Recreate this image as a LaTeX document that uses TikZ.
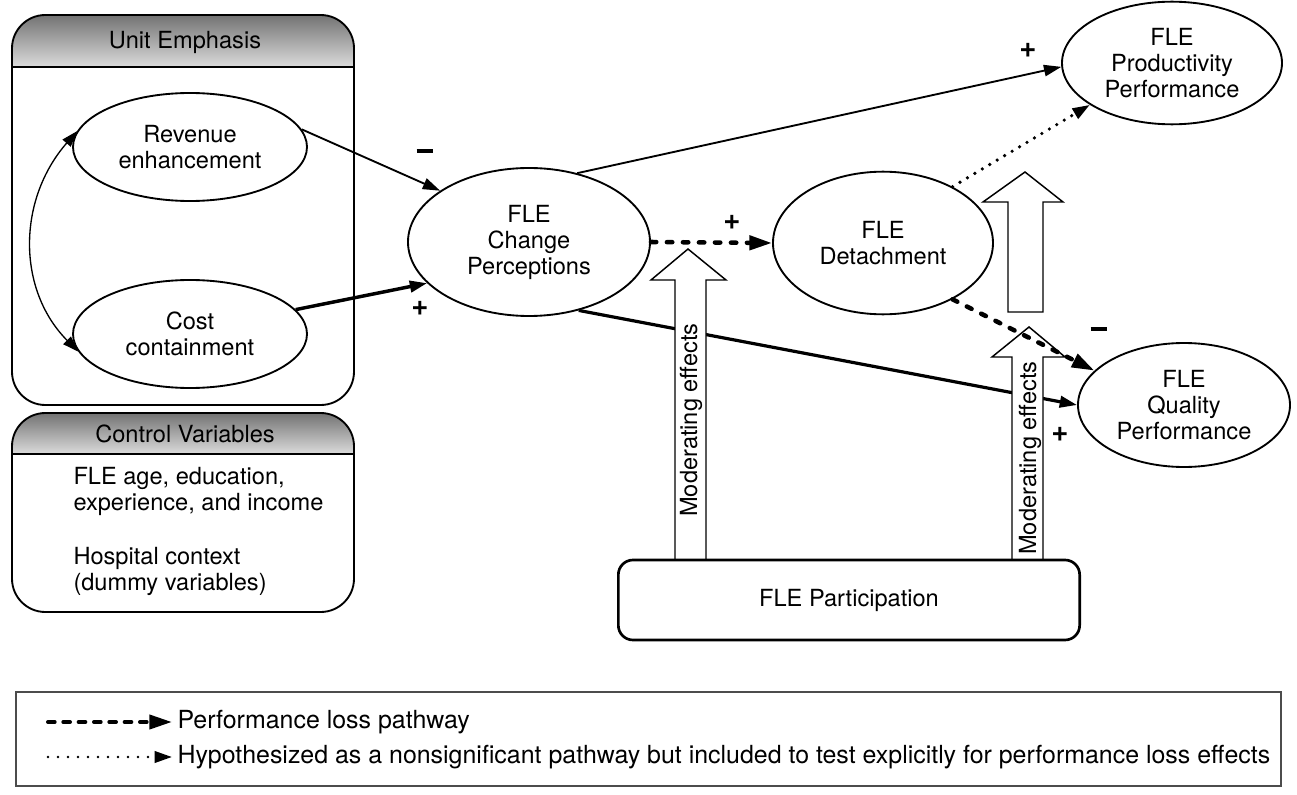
\documentclass[tikz,border=0pt]{standalone}
\usepackage{fontspec}
\setmainfont{TeX Gyre Heros}
\usetikzlibrary{shapes.geometric,arrows.meta}

\newcommand{\diagfont}{\fontsize{17.7}{19.5}\selectfont}
\newcommand{\minussign}{\rule{12.5pt}{3.2pt}}

\tikzset{every picture/.style={line width=0.75pt}}
\tikzset{
  construct/.style={ellipse, draw, line width=1.4pt, fill=white, align=center, inner sep=0pt},
  panel/.style={draw, line width=1.4pt, rounded corners=25pt},
  sign/.style={inner sep=0.75pt, font=\fontsize{22}{22}\selectfont\bfseries},
  path tip/.style={-{Triangle[length=13pt,width=8.5pt]}},
  loss tip/.style={-{Triangle[length=17pt,width=10.5pt]}},
  losspath/.style={loss tip, line width=3.4pt, dash pattern=on 4pt off 8pt, line cap=round},
  nonsig/.style={path tip, line width=2.7pt, dash pattern=on 0pt off 6.5pt, line cap=round},
  modarrow/.style={draw, fill=white, line width=1.1pt},
}

\begin{document}
\begin{tikzpicture}[x=0.75pt,y=0.75pt,yscale=-1,xscale=1,font=\diagfont]
\useasboundingbox (0,0) rectangle (1297,795);

%Shape: Rounded Rect - unit emphasis
\begin{scope}
\clip[rounded corners=25pt] (12,15) rectangle (354,405);
\shade[top color=black!55, middle color=black!14, bottom color=black!14] (12,15) rectangle (354,67);
\end{scope}
\draw[panel] (12,15) rectangle (354,405);
\draw[line width=1.4pt] (12,67) -- (354,67);
\node[inner sep=0.75pt] (unithead) at (185,42) {Unit Emphasis};

%Shape: Rounded Rect - control variables
\begin{scope}
\clip[rounded corners=25pt] (12,413) rectangle (354,612);
\shade[top color=black!55, middle color=black!14, bottom color=black!14] (12,413) rectangle (354,454);
\end{scope}
\draw[panel] (12,413) rectangle (354,612);
\draw[line width=1.4pt] (12,454) -- (354,454);
\node[inner sep=0.75pt] (ctrlhead) at (185,434) {Control Variables};
\node[anchor=north west, align=left, inner sep=0pt] (ctrl) at (73,467)
  {FLE age, education,\\experience, and income\\[21pt]Hospital context\\(dummy variables)};

%Shape: Ellipses
\node[construct, minimum width=175.5pt, minimum height=81pt] (rev) at (190,147) {Revenue\\enhancement};
\node[construct, minimum width=175.5pt, minimum height=81pt] (cost) at (190,334) {Cost\\containment};
\node[construct, minimum width=181.5pt, minimum height=111pt] (chg) at (529,242) {FLE\\Change\\Perceptions};
\node[construct, minimum width=165pt, minimum height=107pt] (det) at (883,243) {FLE\\Detachment};
\node[construct, minimum width=165pt, minimum height=92pt] (prod) at (1172,63) {FLE\\Productivity\\Performance};
\node[construct, minimum width=159pt, minimum height=93pt] (qual) at (1184,405) {FLE\\Quality\\Performance};

%Curve Lines
\draw[line width=1pt, {Triangle[length=12pt,width=8pt]}-{Triangle[length=12pt,width=8pt]}] (rev.172) .. controls (17,200) and (17,290) .. (cost.189);

%Straight Lines
\draw[path tip, line width=1.4pt] (rev.9) -- (chg.150);
\draw[path tip, line width=2.6pt] (cost.13) -- (chg.202);
\draw[path tip, line width=1.4pt] (chg.55) -- (prod.182);
\draw[path tip, line width=2.4pt] (chg.306) -- (qual.west);

%Shape: Up Arrows
\draw[modarrow] (675,560) -- (675,280) -- (651,280) -- (688,249) -- (726,280) -- (706,280) -- (706,560) -- cycle;
\node[rotate=90, inner sep=0pt] (modleft) at (691,420) {Moderating effects};
\draw[modarrow] (1012,560) -- (1012,357) -- (992,357) -- (1029,327) -- (1065,357) -- (1043,357) -- (1043,560) -- cycle;
\node[rotate=90, inner sep=0pt] (modright) at (1030,458) {Moderating effects};
\draw[modarrow] (1008,312) -- (1008,202) -- (983,202) -- (1025,172) -- (1063,202) -- (1043,202) -- (1043,312) -- cycle;

%Dashed and dotted lines
\draw[losspath] (chg.east) -- (det.west);
\draw[losspath] (det.321) -- (qual.159);
\draw[nonsig] (det.39) -- (prod.207);

%Shape: Rounded Rect - participation
\node[draw, line width=2pt, rounded corners=11pt, fill=white, minimum width=346pt, minimum height=60pt] (part) at (849,600) {FLE Participation};

%Signs
\node[inner sep=0pt] (signrev) at (425,151) {\minussign};
\node[sign] (signcost) at (420,308) {+};
\node[sign] (signdet) at (732,222) {+};
\node[sign] (signprod) at (1028,50) {+};
\node[inner sep=0pt] (signloss) at (1099,329) {\minussign};
\node[sign] (signqual) at (1060,434) {+};

%Legend
\draw[line width=1pt, draw=black!70] (16,692) rectangle (1281,786);
\coordinate (lossA) at (48,722);
\coordinate (lossB) at (172,722);
\draw[losspath, loss tip/.style={-{Triangle[length=12pt,width=8.5pt]}}, line width=3pt, dash pattern=on 5pt off 6.5pt] (lossA) -- (lossB);
\node[anchor=west, inner sep=0pt, font=\fontsize{18.7}{20}\selectfont] (losstext) at (177,722) {Performance loss pathway};
\coordinate (nonsigA) at (48,757);
\coordinate (nonsigB) at (172,757);
\draw[nonsig, path tip/.style={-{Triangle[length=12pt,width=8.5pt]}}, line width=2pt, dash pattern=on 0pt off 7.5pt] (nonsigA) -- (nonsigB);
\node[anchor=west, inner sep=0pt, font=\fontsize{18.7}{20}\selectfont] (nonsigtext) at (177,757) {Hypothesized as a nonsignificant pathway but included to test explicitly for performance loss effects};

\end{tikzpicture}
\end{document}
